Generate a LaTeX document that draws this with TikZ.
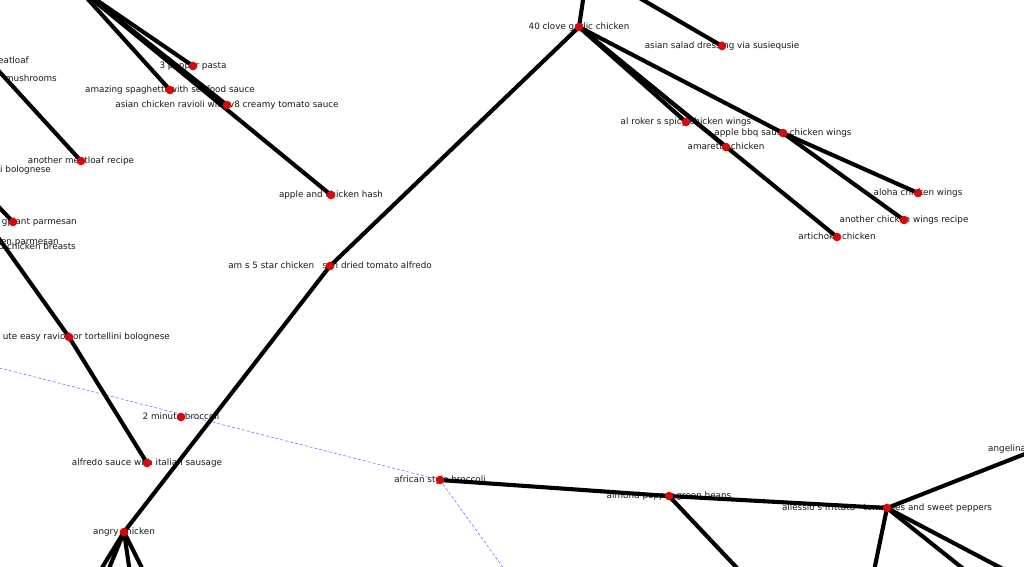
\documentclass[tikz,border=0pt]{standalone}
\usepackage{fontspec}
\setmainfont{DejaVu Sans}
\usepackage{xcolor}
\definecolor{dotred}{RGB}{214,8,8}
\definecolor{linkblue}{RGB}{120,120,235}
\begin{document}
\begin{tikzpicture}[
	% One unit is one pixel of the picture; y grows downwards.
	x=1pt, y=-1pt
	]
	% Styles for labels, connectors and the red markers.
	\tikzset{
		recipe/.style={inner sep=0pt, text=black!90, text height=0.72em, text depth=0.32em, font=\fontsize{8.8}{10}\selectfont},
		link/.style={draw=black, line width=4.1pt},
		dashlink/.style={draw=linkblue, line width=0.6pt, dash pattern=on 3pt off 2pt},
		nodedot/.style={fill=dotred}
	}
	
	\useasboundingbox (0,0) rectangle (1024,566);
	\clip (0,0) rectangle (1024,566);
	
	% === POSITIONS ===
	\coordinate (garlic) at (579,27);
	\coordinate (salad) at (722,46);
	\coordinate (pepper) at (193,66);
	\coordinate (spaghetti) at (170,90);
	\coordinate (ravioli) at (227,105);
	\coordinate (meatloaf) at (81,161);
	\coordinate (hash) at (331,195);
	\coordinate (alfredo) at (330,266);
	\coordinate (roker) at (686,122);
	\coordinate (bbq) at (783,133);
	\coordinate (amaretto) at (726,147);
	\coordinate (aloha) at (918,193);
	\coordinate (wings) at (904,220);
	\coordinate (artichoke) at (837,237);
	\coordinate (eggplant) at (13,222);
	\coordinate (bolognese) at (69,337);
	\coordinate (broccoli) at (181,417);
	\coordinate (sausage) at (147,463);
	\coordinate (angry) at (124,532);
	\coordinate (african) at (440,480);
	\coordinate (almond) at (669,496);
	\coordinate (frittata) at (887,508);
	
	% ends that lie outside the picture
	\coordinate (hubA) at (76,-14);
	\coordinate (hubB) at (586,-20);
	\coordinate (hubC) at (600,-25);
	\coordinate (hubD) at (-15,56);
	\coordinate (hubE) at (-20,187);
	\coordinate (hubF) at (-25,205);
	\coordinate (hubG) at (-20,363);
	\coordinate (angelina) at (1035,450);
	\coordinate (outA) at (520,591);
	\coordinate (outB) at (754,586);
	\coordinate (outC) at (870,590);
	\coordinate (outD) at (990,590);
	\coordinate (outE) at (1043,590);
	\coordinate (outF) at (82,600);
	\coordinate (outG) at (96,600);
	\coordinate (outH) at (134,600);
	\coordinate (outI) at (158,600);
	
	% === LABELS ===
	\node[recipe] (garlic-t) at (garlic) {40 clove garlic chicken};
	\node[recipe] (salad-t) at (salad) {asian salad dressing via susiequsie};
	\node[recipe] (pepper-t) at (pepper) {3 pepper pasta};
	\node[recipe] (spaghetti-t) at (spaghetti) {amazing spaghetti with seafood sauce};
	\node[recipe] (ravioli-t) at (ravioli) {asian chicken ravioli with v8 creamy tomato sauce};
	\node[recipe] (meatloaf-t) at (meatloaf) {another meatloaf recipe};
	\node[recipe] (hash-t) at (hash) {apple and chicken hash};
	\node[recipe] (alfredo-t) at (alfredo) {am s 5 star chicken\ \ \ sun dried tomato alfredo};
	\node[recipe] (roker-t) at (roker) {al roker s spicy chicken wings};
	\node[recipe] (bbq-t) at (bbq) {apple bbq sauce chicken wings};
	\node[recipe] (amaretto-t) at (amaretto) {amaretto chicken};
	\node[recipe] (aloha-t) at (aloha) {aloha chicken wings};
	\node[recipe] (wings-t) at (wings) {another chicken wings recipe};
	\node[recipe] (artichoke-t) at (artichoke) {artichoke chicken};
	\node[recipe] (broccoli-t) at (broccoli) {2 minute broccoli};
	\node[recipe] (sausage-t) at (sausage) {alfredo sauce with italian sausage};
	\node[recipe] (angry-t) at (angry) {angry chicken};
	\node[recipe] (african-t) at (african) {african style broccoli};
	\node[recipe] (almond-t) at (almond) {almond pepper green beans};
	\node[recipe] (frittata-t) at (frittata) {allessio s frittata\ \ \ tomatoes and sweet peppers};
	% labels cut by the frame
	\node[recipe, anchor=east] (eggplant-t) at (77,222) {gplant parmesan};
	\node[recipe, anchor=east] (bolognese-t) at (170,337) {ute easy ravioli or tortellini bolognese};
	\node[recipe, anchor=east] (eatloaf-t) at (29,61) {eatloaf};
	\node[recipe, anchor=east] (mushrooms-t) at (57,79) {mushrooms};
	\node[recipe, anchor=east] (ibolognese-t) at (51,170) {i bolognese};
	\node[recipe, anchor=east] (parmesan-t) at (59,242) {en parmesan};
	\node[recipe, anchor=east] (breasts-t) at (76,247) {d chicken breasts};
	\node[recipe, anchor=west] (angelina-t) at (988,449) {angelina};
	
	% === CONNECTIONS ===
	\draw[dashlink] (hubG) -- (african);
	\draw[dashlink] (african) -- (outA);
	
	\draw[link] (hubA) -- (pepper);
	\draw[link] (hubA) -- (spaghetti);
	\draw[link] (hubA) -- (ravioli);
	\draw[link] (hubA) -- (hash);
	\draw[link] (hubD) -- (meatloaf);
	\draw[link] (hubE) -- (eggplant);
	\draw[link] (hubF) -- (bolognese);
	\draw[link] (bolognese) -- (sausage);
	\draw[link] (hubB) -- (garlic);
	\draw[link] (hubC) -- (salad);
	\draw[link] (garlic) -- (alfredo);
	\draw[link] (alfredo) -- (angry);
	\draw[link] (garlic) -- (roker);
	\draw[link] (garlic) -- (amaretto);
	\draw[link] (garlic) -- (artichoke);
	\draw[link] (garlic) -- (bbq);
	\draw[link] (bbq) -- (aloha);
	\draw[link] (bbq) -- (wings);
	\draw[link] (african) -- (almond);
	\draw[link] (almond) -- (frittata);
	\draw[link] (almond) -- (outB);
	\draw[link] (frittata) -- (angelina);
	\draw[link] (frittata) -- (outC);
	\draw[link] (frittata) -- (outD);
	\draw[link] (frittata) -- (outE);
	\foreach \e in {outF, outG, outH, outI}
		\draw[link] (angry) -- (\e);
	
	% === MARKERS ===
	\foreach \n in {garlic, salad, pepper, spaghetti, ravioli, meatloaf, hash, alfredo, roker, bbq, amaretto, aloha, wings, artichoke, eggplant, bolognese, broccoli, sausage, angry, african, almond, frittata}
		\fill[nodedot] (\n) circle[radius=4.3pt];
\end{tikzpicture}
\end{document}
